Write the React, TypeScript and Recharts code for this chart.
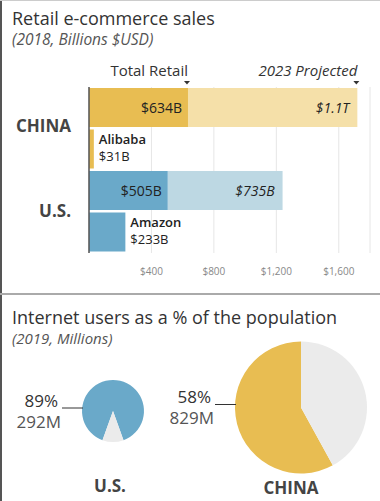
import React from "react";
import {
  BarChart,
  Bar,
  XAxis,
  YAxis,
  CartesianGrid,
  LabelList,
  Cell,
  PieChart,
  Pie,
} from "recharts";

// bar chart rows: each country followed by its biggest retailer
const rowNames = ["China", "Alibaba", "U.S.", "Amazon"];
const groupLabels = ["CHINA", "", "U.S.", ""];
const sales2018 = [634, 31, 505, 233];
const projected2023 = [1085, 0, 735, 0];
const salesLabels = ["$634B", "$31B", "$505B", "$233B"];
const projectedLabels = ["$1.1T", "", "$735B", ""];
const xTicks = [400, 800, 1200, 1600];

// pies
const pieCountries = ["U.S.", "CHINA"];
const onlineShare = [89, 58];
const onlineUsers = ["292M", "829M"];

const FONT = "'Open Sans', 'Noto Sans', sans-serif";
const YELLOW = "#E8BD52";
const YELLOW_LIGHT = "#F5E0A9";
const BLUE = "#6AA9C9";
const BLUE_LIGHT = "#BDD8E3";
const GREY = "#EBEBEB";

const rows = rowNames.map((name, i) => ({
  name,
  group: groupLabels[i],
  base: sales2018[i],
  projected: projected2023[i],
  baseLabel: salesLabels[i],
  projLabel: projectedLabels[i],
  isCountry: projected2023[i] > 0,
  first: i === 0,
  color: i < 2 ? YELLOW : BLUE,
  lightColor: i < 2 ? YELLOW_LIGHT : BLUE_LIGHT,
}));

const rowByName = (n: string) => rows.find((r) => r.name === n);

function Marker({ x, y }: { x: number; y: number }) {
  return <path d={`M${x - 3},${y} L${x + 3},${y} L${x},${y + 3.5} Z`} fill="#333" />;
}

function BaseLabel(props: any) {
  const { x, y, width, height, value } = props;
  const row = rowByName(value);
  if (!row) return null;
  const mid = y + height / 2;
  const end = x + width;
  if (!row.isCountry) {
    return (
      <g fontFamily={FONT} fill="#222">
        <text x={end + 5} y={mid - 10} fontSize={13} fontWeight={600} dominantBaseline="central">
          {row.name}
        </text>
        <text x={end + 5} y={mid + 7} fontSize={13} dominantBaseline="central">
          {row.baseLabel}
        </text>
      </g>
    );
  }
  return (
    <g fontFamily={FONT} fill="#222">
      <text x={end - 6} y={mid} fontSize={14} textAnchor="end" dominantBaseline="central">
        {row.baseLabel}
      </text>
      {row.first && (
        <>
          <text x={end} y={y - 18} fontSize={15} textAnchor="end" dominantBaseline="central" fill="#333">
            Total Retail
          </text>
          <Marker x={end - 1} y={y - 7} />
        </>
      )}
    </g>
  );
}

function ProjLabel(props: any) {
  const { x, y, width, height, value } = props;
  const row = rowByName(value);
  if (!row || !row.isCountry) return null;
  const mid = y + height / 2;
  const end = x + width;
  return (
    <g fontFamily={FONT} fill="#222">
      <text x={end - 8} y={mid} fontSize={14} fontStyle="italic" textAnchor="end" dominantBaseline="central">
        {row.projLabel}
      </text>
      {row.first && (
        <>
          <text x={end} y={y - 18} fontSize={15} fontStyle="italic" textAnchor="end" dominantBaseline="central" fill="#333">
            2023 Projected
          </text>
          <Marker x={end - 1} y={y - 7} />
        </>
      )}
    </g>
  );
}

function GroupTick(props: any) {
  const { y, index } = props;
  const label = groupLabels[index];
  if (!label) return null;
  return (
    <text
      x={71}
      y={y + (index === 0 ? 18 : 20)}
      textAnchor="end"
      dominantBaseline="central"
      fontFamily={FONT}
      fontSize={17}
      fontWeight={700}
      fill="#444"
    >
      {label}
    </text>
  );
}

const pieLayout = [
  { cx: 108, cy: 111, r: 31, start: 270 + ((100 - onlineShare[0]) / 100) * 180, color: BLUE, nameX: 110, nameY: 190 },
  { cx: 296, cy: 107.5, r: 66, start: 90, color: YELLOW, nameX: 291, nameY: 192 },
];

function pieLabel(i: number) {
  const { cx, cy, r, nameX, nameY } = pieLayout[i];
  return (props: any) => {
    if (props.index !== 0) return null;
    const left = cx - r;
    return (
      <g fontFamily={FONT}>
        <line x1={left - 15} x2={left + 6} y1={cy + 2} y2={cy + 2} stroke="#333" strokeWidth={1} />
        <text x={left - 19} y={cy - 6} textAnchor="end" dominantBaseline="central" fontSize={17} fill="#333">
          {onlineShare[i]}%
        </text>
        <text x={left - 16} y={cy + 15} textAnchor="end" dominantBaseline="central" fontSize={17} fill="#555">
          {onlineUsers[i]}
        </text>
        <text x={nameX} y={nameY} textAnchor="middle" dominantBaseline="central" fontSize={17} fontWeight={700} fill="#444">
          {pieCountries[i]}
        </text>
      </g>
    );
  };
}

const titleStyle: React.CSSProperties = {
  position: "absolute",
  left: 12,
  fontSize: 18,
  lineHeight: "20px",
  color: "#333",
  whiteSpace: "nowrap",
};
const subStyle: React.CSSProperties = {
  position: "absolute",
  left: 12,
  fontSize: 15.5,
  lineHeight: "16px",
  fontStyle: "italic",
  color: "#555",
  whiteSpace: "nowrap",
};

export default function App() {
  const fmt = (v: number) => `$${v.toLocaleString("en-US")}`;
  return (
    <div
      style={{
        position: "absolute",
        left: 0,
        top: 0,
        width: 380,
        height: 501,
        background: "#fff",
        fontFamily: FONT,
        overflow: "hidden",
      }}
    >
      <div style={{ position: "absolute", left: 0, top: 0, width: 2, height: 501, background: "#555" }} />
      <div style={{ position: "absolute", left: 0, top: 0, width: 380, height: 1, background: "#ccc" }} />

      <div style={{ ...titleStyle, top: 8 }}>Retail e-commerce sales</div>
      <div style={{ ...subStyle, top: 31 }}>(2018, Billions $USD)</div>

      <div style={{ position: "absolute", left: 0, top: 0 }}>
        <BarChart
          width={380}
          height={300}
          data={rows}
          layout="vertical"
          margin={{ top: 87, right: 10, bottom: 17, left: 0 }}
          barSize={39}
        >
          <CartesianGrid horizontal={false} stroke="#e6e6e6" />
          <XAxis
            type="number"
            domain={[0, 1800]}
            ticks={xTicks}
            tickFormatter={fmt}
            axisLine={false}
            tickLine={false}
            tickMargin={9}
            height={30}
            tick={{ fontSize: 10, fill: "#888", fontFamily: FONT }}
          />
          <YAxis
            type="category"
            dataKey="name"
            width={89}
            axisLine={{ stroke: "#555", strokeWidth: 1.5 }}
            tickLine={false}
            tick={<GroupTick />}
          />
          <Bar dataKey="base" stackId="a" isAnimationActive={false}>
            {rows.map((r, i) => (
              <Cell key={i} fill={r.color} />
            ))}
            <LabelList dataKey="name" content={<BaseLabel />} />
          </Bar>
          <Bar dataKey="projected" stackId="a" isAnimationActive={false}>
            {rows.map((r, i) => (
              <Cell key={i} fill={r.lightColor} />
            ))}
            <LabelList dataKey="name" content={<ProjLabel />} />
          </Bar>
        </BarChart>
      </div>

      <div style={{ position: "absolute", left: 0, top: 293, width: 380, height: 2, background: "#aaa" }} />

      <div style={{ ...titleStyle, top: 307 }}>Internet users as a % of the population</div>
      <div style={{ ...subStyle, top: 330, fontSize: 15 }}>(2019, Millions)</div>

      <div style={{ position: "absolute", left: 0, top: 295 }}>
        <PieChart width={380} height={206}>
          {pieLayout.map((p, i) => (
            <Pie
              key={i}
              data={[
                { name: "online", value: onlineShare[i] },
                { name: "offline", value: 100 - onlineShare[i] },
              ]}
              dataKey="value"
              cx={p.cx}
              cy={p.cy}
              outerRadius={p.r}
              startAngle={p.start}
              endAngle={p.start + 360}
              stroke="none"
              labelLine={false}
              label={pieLabel(i)}
              isAnimationActive={false}
            >
              <Cell fill={p.color} />
              <Cell fill={GREY} />
            </Pie>
          ))}
        </PieChart>
      </div>
    </div>
  );
}
